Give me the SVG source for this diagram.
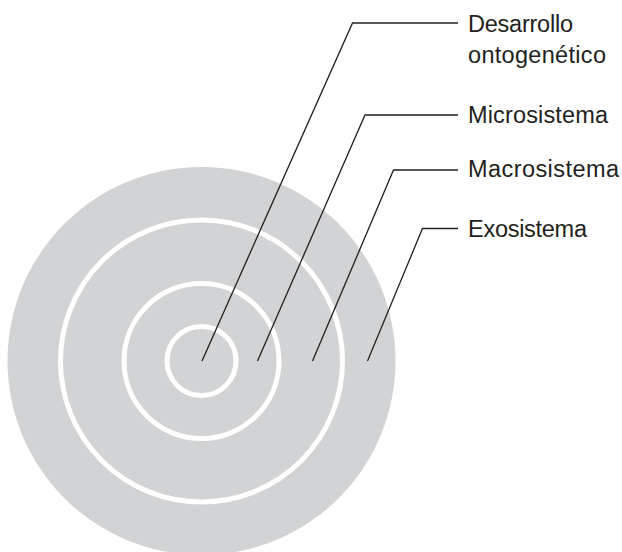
<svg xmlns="http://www.w3.org/2000/svg" width="622" height="552" viewBox="0 0 622 552">
<style>
.ring{fill:none;stroke:#ffffff;stroke-width:5}
.lead{fill:none;stroke:#231f20;stroke-width:1.3;stroke-linejoin:miter}
.lbl{font-family:"Liberation Sans Narrow","Liberation Sans",Arial,sans-serif;font-size:23.5px;fill:#231f20}
</style>
<rect width="622" height="552" fill="#ffffff"/>
<g id="circles">
<circle cx="201.5" cy="361" r="194" fill="#d1d3d4"/>
<circle class="ring" cx="201.5" cy="361" r="141"/>
<circle class="ring" cx="201.5" cy="361" r="77.5"/>
<circle class="ring" cx="201.5" cy="361" r="34.5"/>
</g>
<g id="connectors">
<polyline class="lead" points="202,361 352.5,23 458,23"/>
<polyline class="lead" points="257.5,361 365,115 458,115"/>
<polyline class="lead" points="312.5,361 393.5,170 458,170"/>
<polyline class="lead" points="367.5,361 422.5,228.5 458,228.5"/>
</g>
<g id="desarrollo"><text class="lbl" x="468" y="31.7" textLength="105" lengthAdjust="spacing">Desarrollo</text><text class="lbl" x="468" y="63.3" textLength="138" lengthAdjust="spacing">ontogenético</text></g>
<g id="microsistema"><text class="lbl" x="468" y="122.7" textLength="140" lengthAdjust="spacing">Microsistema</text></g>
<g id="macrosistema"><text class="lbl" x="468" y="177.3" textLength="151" lengthAdjust="spacing">Macrosistema</text></g>
<g id="exosistema"><text class="lbl" x="468" y="236.7" textLength="119" lengthAdjust="spacing">Exosistema</text></g>
</svg>
